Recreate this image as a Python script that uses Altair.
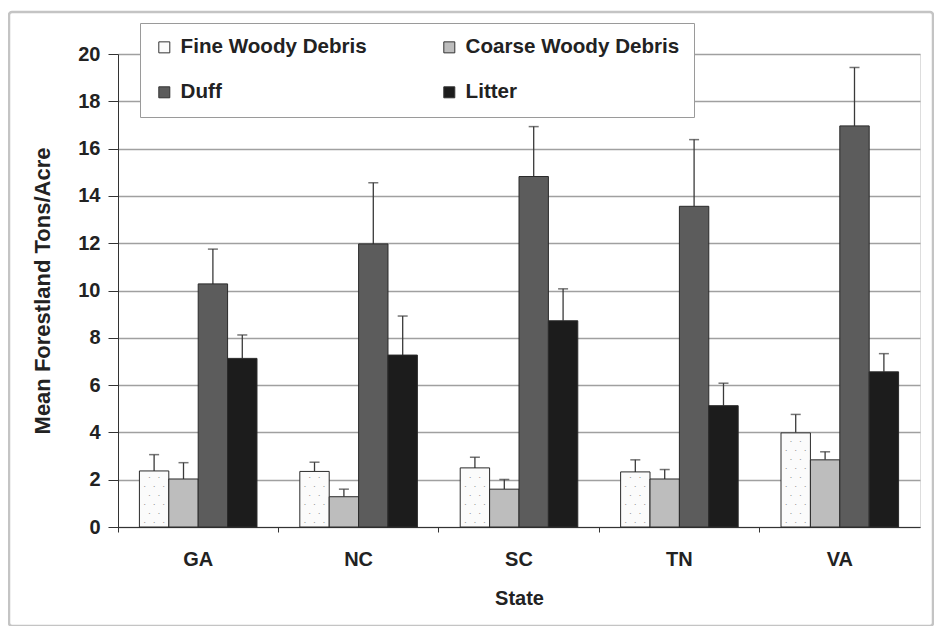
import altair as alt
import numpy as np
import pandas as pd

states = ["GA", "NC", "SC", "TN", "VA"]
categories = ["Fine Woody Debris", "Coarse Woody Debris", "Duff", "Litter"]
# legend is filled column by column: this order puts Fine/Coarse on row 1, Duff/Litter on row 2
legend_order = ["Fine Woody Debris", "Duff", "Coarse Woody Debris", "Litter"]

fine = [2.37, 2.35, 2.50, 2.33, 3.98]
fine_upper = [3.06, 2.74, 2.95, 2.84, 4.76]
coarse = [2.03, 1.28, 1.60, 2.03, 2.84]
coarse_upper = [2.72, 1.60, 2.01, 2.43, 3.18]
duff = [10.28, 11.97, 14.82, 13.56, 16.96]
duff_upper = [11.75, 14.56, 16.93, 16.38, 19.43]
litter = [7.13, 7.27, 8.72, 5.13, 6.56]
litter_upper = [8.12, 8.92, 10.07, 6.08, 7.33]

color_of = {
    "Fine Woody Debris": "#fbfbfb",
    "Coarse Woody Debris": "#bdbdbd",
    "Duff": "#5c5c5c",
    "Litter": "#1c1c1c",
}
y_ticks = list(range(0, 21, 2))

FONT = "Liberation Sans"
YTITLE = "Mean Forestland Tons/Acre"

series = {
    "Fine Woody Debris": (fine, fine_upper),
    "Coarse Woody Debris": (coarse, coarse_upper),
    "Duff": (duff, duff_upper),
    "Litter": (litter, litter_upper),
}
rows = []
for cat in categories:
    vals, ups = series[cat]
    for s, v, u in zip(states, vals, ups):
        rows.append({"State": s, "Category": cat, "Value": v, "Upper": u})
df = pd.DataFrame(rows)

# stipple texture for the Fine Woody Debris bars (derived from the bar heights)
dot_rows = []
for s, v in zip(states, fine):
    for i, yy in enumerate(np.arange(0.19, v - 0.1, 0.38)):
        slots = [0, 2, 4] if i % 2 == 0 else [1, 3]
        for sl in slots:
            dot_rows.append({"State": s, "Category": "Fine Woody Debris", "dy": float(yy), "slot": sl})
dots_df = pd.DataFrame(dot_rows)
slot_dx = [-9.5, -4.75, 0, 4.75, 9.5]

x_enc = alt.X(
    "State:N",
    sort=states,
    scale=alt.Scale(paddingInner=0.267, paddingOuter=0.1335),
    axis=alt.Axis(
        title="State", labelAngle=0, labelFont=FONT, labelFontSize=20,
        labelFontWeight="bold", labelColor="#222", labelPadding=17,
        tickSize=5, tickColor="#333", domainColor="#333", bandPosition=-0.182,
        titleFont=FONT, titleFontSize=20, titleFontWeight="bold",
        titleColor="#222", titlePadding=19, grid=False,
    ),
)
xoff_enc = alt.XOffset(
    "Category:N", sort=categories,
    scale=alt.Scale(domain=categories, paddingInner=0, paddingOuter=0),
)
y_axis = alt.Axis(
    values=y_ticks, labelFont=FONT, labelFontSize=20, labelFontWeight="bold",
    labelColor="#222", labelPadding=8, tickSize=10, tickColor="#333",
    domainColor="#333", gridColor="#a0a0a0", gridWidth=1.6,
    titleFont=FONT, titleFontSize=22, titleFontWeight="bold",
    titleColor="#222", titlePadding=23,
)
y_scale = alt.Scale(domain=[0, 20], nice=False)

base = alt.Chart(df).encode(x=x_enc, xOffset=xoff_enc)

bars = base.mark_bar(stroke="#2a2a2a", strokeWidth=1).encode(
    y=alt.Y("Value:Q", scale=y_scale, axis=y_axis, title=YTITLE),
    color=alt.Color(
        "Category:N",
        scale=alt.Scale(domain=legend_order, range=[color_of[c] for c in legend_order]),
        legend=alt.Legend(
            title=None, orient="none", legendX=22, legendY=-31, columns=2,
            columnPadding=72, rowPadding=24, padding=14,
            fillColor="white", strokeColor="#9a9a9a",
            symbolType="square", symbolSize=121, symbolStrokeColor="#333",
            symbolStrokeWidth=1, labelFont=FONT, labelFontSize=20.6,
            labelFontWeight="bold", labelColor="#222", labelOffset=6,
            labelLimit=400, zindex=1,
        ),
    ),
)

dot_layers = []
for sl, d in enumerate(slot_dx):
    dot_layers.append(
        alt.Chart(dots_df[dots_df["slot"] == sl])
        .mark_text(text="•", fontSize=4, color="#8a8a8a", dx=d, baseline="middle")
        .encode(x=x_enc, xOffset=xoff_enc,
                y=alt.Y("dy:Q", scale=y_scale, title=YTITLE))
    )

rules = base.mark_rule(color="#3a3a3a", strokeWidth=1.3).encode(
    y=alt.Y("Value:Q", scale=y_scale, title=YTITLE), y2="Upper:Q"
)
caps = base.mark_tick(color="#3a3a3a", thickness=1.5, size=10, orient="horizontal").encode(
    y=alt.Y("Upper:Q", scale=y_scale, title=YTITLE)
)

frame = alt.Chart(pd.DataFrame({"a": [0]})).mark_rect(
    fill=None, stroke="#c4c4c4", strokeWidth=2.5, cornerRadius=3
).encode(
    x=alt.value(-109), x2=alt.value(815), y=alt.value(-42), y2=alt.value(572)
)

chart = alt.layer(frame, rules, caps, bars, *dot_layers).properties(
    width=802,
    height=473,
    padding={"left": 110, "top": 46, "right": 14, "bottom": 99},
    autosize=alt.AutoSizeParams(type="none"),
).configure_view(stroke="#9a9a9a", strokeWidth=1.5).configure(background="white")

chart.save("out.html", embed_options={"renderer": "svg", "actions": False})
